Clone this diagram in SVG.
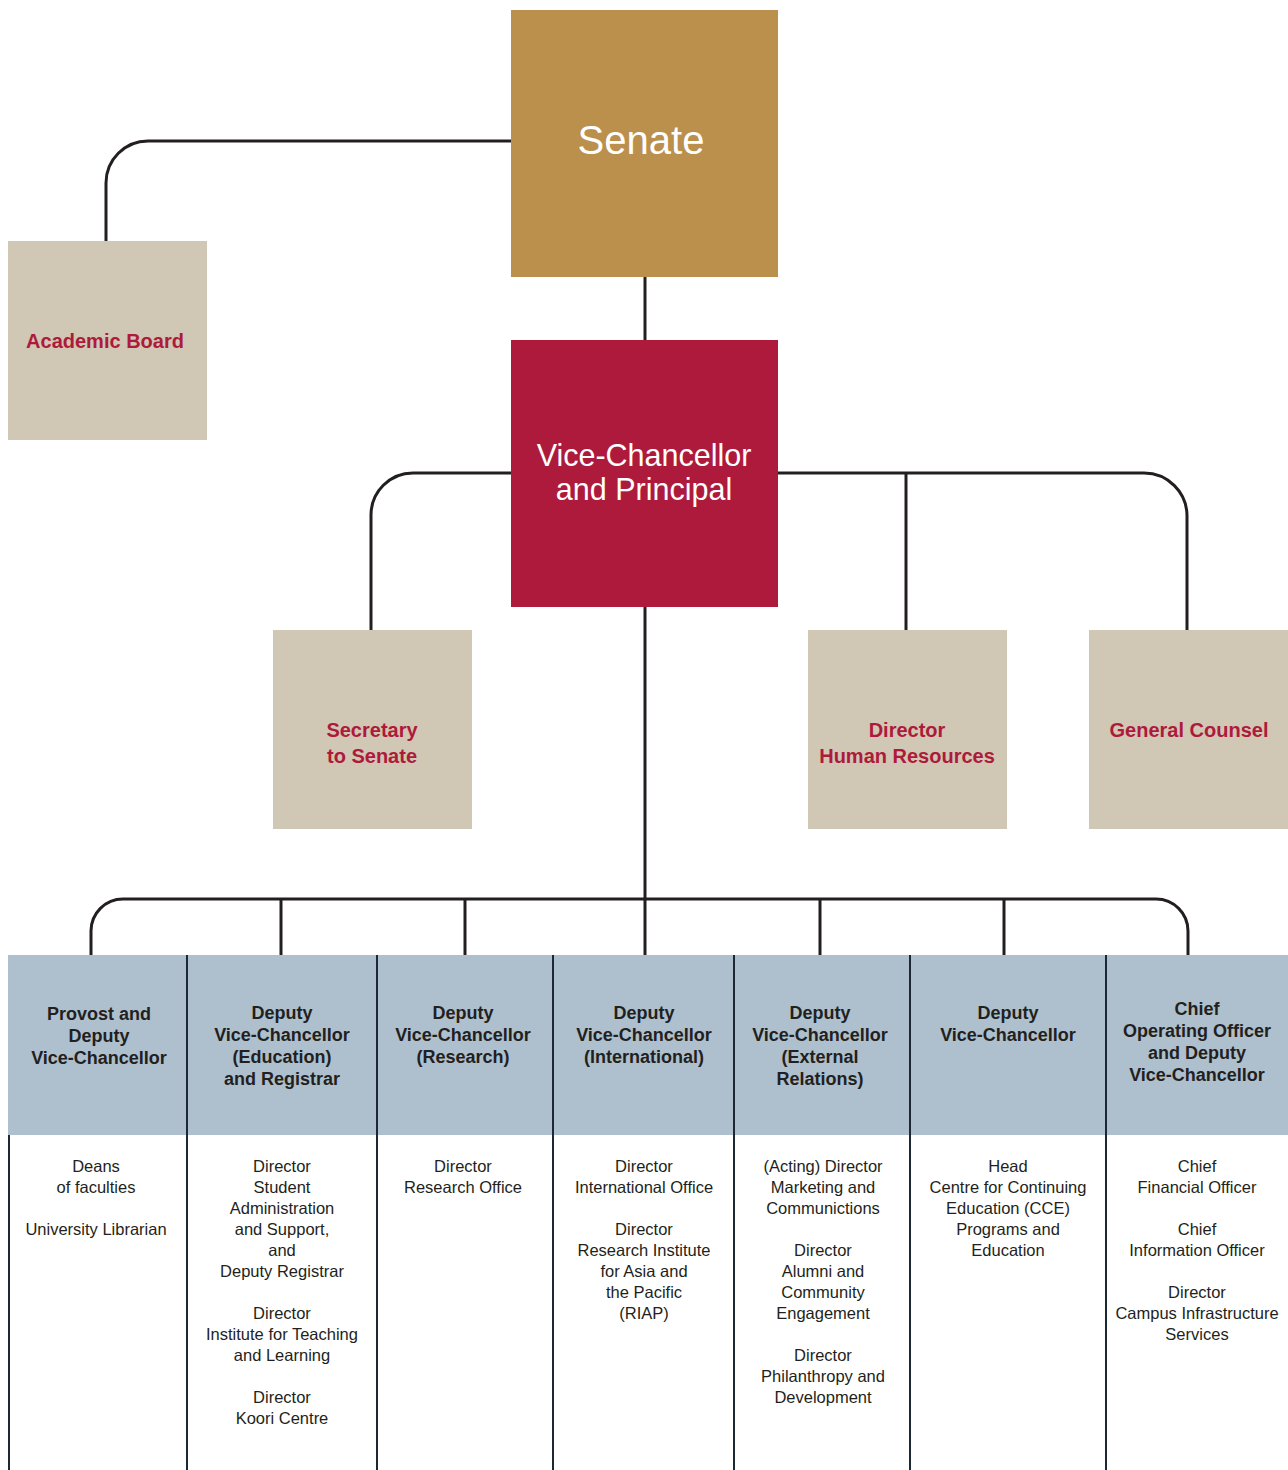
<svg xmlns="http://www.w3.org/2000/svg" width="1288" height="1470" viewBox="0 0 1288 1470">
<style>
.conn{fill:none;stroke:#231f20;stroke-width:3}
.sep{fill:none;stroke:#1c2833;stroke-width:2}
.tan{fill:#d0c7b4}
.red{font-family:"Liberation Sans",Arial,sans-serif;font-weight:bold;font-size:20px;fill:#ae1a3b;text-anchor:middle}
.big{font-family:"Liberation Sans",Arial,sans-serif;fill:#ffffff;text-anchor:middle}
.hd{font-family:"Liberation Sans",Arial,sans-serif;font-weight:bold;font-size:18px;fill:#231f20;text-anchor:middle}
.bd{font-family:"Liberation Sans",Arial,sans-serif;font-size:16.5px;fill:#231f20;text-anchor:middle}
</style>
<rect width="1288" height="1470" fill="#ffffff"/>
<g id="connectors">
<path class="conn" d="M511,141 H148 A42,42 0 0 0 106,183 V241"/>
<path class="conn" d="M645,277 V340"/>
<path class="conn" d="M511,473 H413 A42,42 0 0 0 371,515 V630"/>
<path class="conn" d="M778,473 H1144 A43,43 0 0 1 1187,516 V630"/>
<path class="conn" d="M906,473 V630"/>
<path class="conn" d="M645,607 V955"/>
<path class="conn" d="M91,955 V931 A32,32 0 0 1 123,899 H1156 A32,32 0 0 1 1188,931 V955"/>
<path class="conn" d="M281,899 V955 M465,899 V955 M820,899 V955 M1004,899 V955"/>
</g>
<g id="senate">
<rect x="511" y="10" width="267" height="267" fill="#bb904d"/>
<text class="big" x="641" y="154" font-size="40">Senate</text>
</g>
<g id="vice-chancellor">
<rect x="511" y="340" width="267" height="267" fill="#ae1a3b"/>
<text class="big" x="644" y="466" font-size="30.5">Vice-Chancellor</text>
<text class="big" x="644" y="500" font-size="30.5">and Principal</text>
</g>
<g id="academic-board">
<rect class="tan" x="8" y="241" width="199" height="199"/>
<text class="red" x="105" y="348">Academic Board</text>
</g>
<g id="secretary">
<rect class="tan" x="273" y="630" width="199" height="199"/>
<text class="red" x="372" y="737">Secretary</text>
<text class="red" x="372" y="763">to Senate</text>
</g>
<g id="director-hr">
<rect class="tan" x="808" y="630" width="199" height="199"/>
<text class="red" x="907" y="737">Director</text>
<text class="red" x="907" y="763">Human Resources</text>
</g>
<g id="general-counsel">
<rect class="tan" x="1089" y="630" width="199" height="199"/>
<text class="red" x="1189" y="737">General Counsel</text>
</g>
<g id="header-band">
<rect x="8" y="955" width="1280" height="180" fill="#aebfcd"/>
</g>
<g id="separators">
<path class="sep" d="M9,1135 V1470 M187,955 V1470 M377,955 V1470 M553,955 V1470 M734,955 V1470 M910,955 V1470 M1106,955 V1470"/>
</g>
<g id="col-provost">
<text class="hd" x="99" y="1020">Provost and</text>
<text class="hd" x="99" y="1042">Deputy</text>
<text class="hd" x="99" y="1064">Vice-Chancellor</text>
<text class="bd" x="96" y="1172">Deans</text>
<text class="bd" x="96" y="1193">of faculties</text>
<text class="bd" x="96" y="1235">University Librarian</text>
</g>
<g id="col-education">
<text class="hd" x="282" y="1019">Deputy</text>
<text class="hd" x="282" y="1041">Vice-Chancellor</text>
<text class="hd" x="282" y="1063">(Education)</text>
<text class="hd" x="282" y="1085">and Registrar</text>
<text class="bd" x="282" y="1172">Director</text>
<text class="bd" x="282" y="1193">Student</text>
<text class="bd" x="282" y="1214">Administration</text>
<text class="bd" x="282" y="1235">and Support,</text>
<text class="bd" x="282" y="1256">and</text>
<text class="bd" x="282" y="1277">Deputy Registrar</text>
<text class="bd" x="282" y="1319">Director</text>
<text class="bd" x="282" y="1340">Institute for Teaching</text>
<text class="bd" x="282" y="1361">and Learning</text>
<text class="bd" x="282" y="1403">Director</text>
<text class="bd" x="282" y="1424">Koori Centre</text>
</g>
<g id="col-research">
<text class="hd" x="463" y="1019">Deputy</text>
<text class="hd" x="463" y="1041">Vice-Chancellor</text>
<text class="hd" x="463" y="1063">(Research)</text>
<text class="bd" x="463" y="1172">Director</text>
<text class="bd" x="463" y="1193">Research Office</text>
</g>
<g id="col-international">
<text class="hd" x="644" y="1019">Deputy</text>
<text class="hd" x="644" y="1041">Vice-Chancellor</text>
<text class="hd" x="644" y="1063">(International)</text>
<text class="bd" x="644" y="1172">Director</text>
<text class="bd" x="644" y="1193">International Office</text>
<text class="bd" x="644" y="1235">Director</text>
<text class="bd" x="644" y="1256">Research Institute</text>
<text class="bd" x="644" y="1277">for Asia and</text>
<text class="bd" x="644" y="1298">the Pacific</text>
<text class="bd" x="644" y="1319">(RIAP)</text>
</g>
<g id="col-external">
<text class="hd" x="820" y="1019">Deputy</text>
<text class="hd" x="820" y="1041">Vice-Chancellor</text>
<text class="hd" x="820" y="1063">(External</text>
<text class="hd" x="820" y="1085">Relations)</text>
<text class="bd" x="823" y="1172">(Acting) Director</text>
<text class="bd" x="823" y="1193">Marketing and</text>
<text class="bd" x="823" y="1214">Communictions</text>
<text class="bd" x="823" y="1256">Director</text>
<text class="bd" x="823" y="1277">Alumni and</text>
<text class="bd" x="823" y="1298">Community</text>
<text class="bd" x="823" y="1319">Engagement</text>
<text class="bd" x="823" y="1361">Director</text>
<text class="bd" x="823" y="1382">Philanthropy and</text>
<text class="bd" x="823" y="1403">Development</text>
</g>
<g id="col-dvc">
<text class="hd" x="1008" y="1019">Deputy</text>
<text class="hd" x="1008" y="1041">Vice-Chancellor</text>
<text class="bd" x="1008" y="1172">Head</text>
<text class="bd" x="1008" y="1193">Centre for Continuing</text>
<text class="bd" x="1008" y="1214">Education (CCE)</text>
<text class="bd" x="1008" y="1235">Programs and</text>
<text class="bd" x="1008" y="1256">Education</text>
</g>
<g id="col-coo">
<text class="hd" x="1197" y="1015">Chief</text>
<text class="hd" x="1197" y="1037">Operating Officer</text>
<text class="hd" x="1197" y="1059">and Deputy</text>
<text class="hd" x="1197" y="1081">Vice-Chancellor</text>
<text class="bd" x="1197" y="1172">Chief</text>
<text class="bd" x="1197" y="1193">Financial Officer</text>
<text class="bd" x="1197" y="1235">Chief</text>
<text class="bd" x="1197" y="1256">Information Officer</text>
<text class="bd" x="1197" y="1298">Director</text>
<text class="bd" x="1197" y="1319">Campus Infrastructure</text>
<text class="bd" x="1197" y="1340">Services</text>
</g>
</svg>
